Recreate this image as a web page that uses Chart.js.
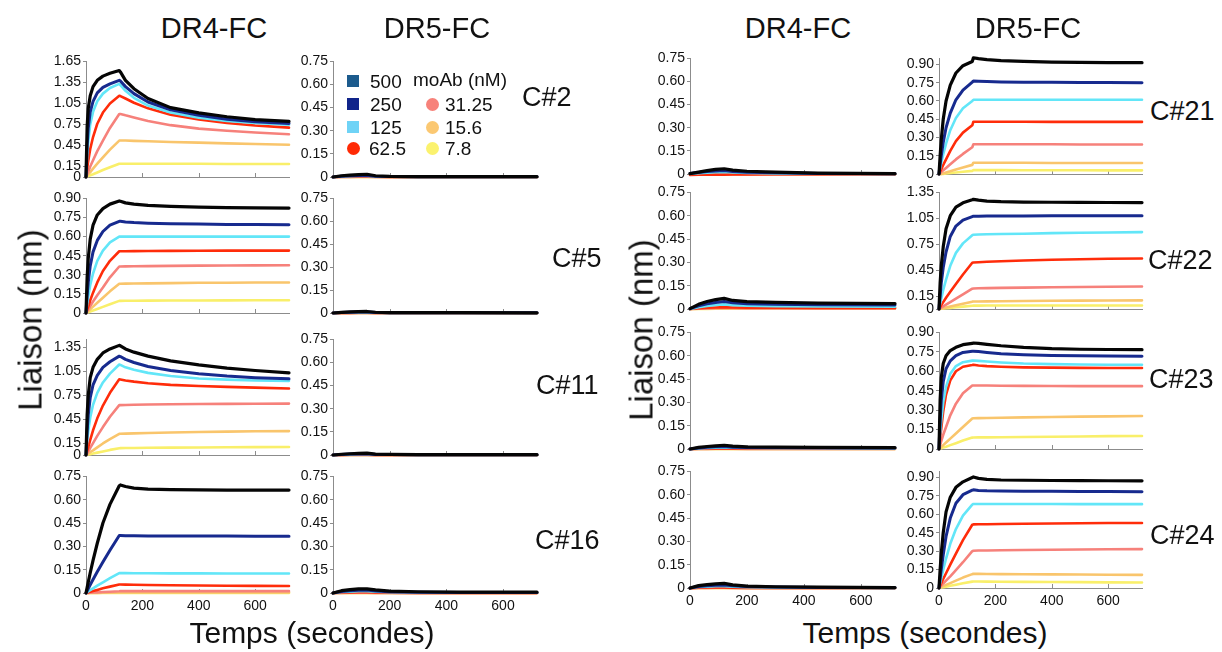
<!DOCTYPE html>
<html>
<head>
<meta charset="utf-8">
<script src="https://cdn.jsdelivr.net/npm/chart.js@4.4.1/dist/chart.umd.min.js"></script>
<style>
  html, body { margin: 0; padding: 0; background: #fff; }
  #fig { position: relative; width: 1222px; height: 652px; overflow: hidden;
         font-family: "Liberation Sans", Arial, Helvetica, sans-serif; color: #111; }
  #fig canvas { position: absolute; }
  .t { position: absolute; white-space: nowrap; line-height: 1; }
  .sw { position: absolute; }
</style>
</head>
<body>
<div id="fig"></div>
<script>
// ---- sampling times (s) ----
const timeFull  = [0, 4, 8, 15, 25, 40, 60, 85, 118, 122, 140, 170, 220, 300, 400, 500, 600, 720];
const timeShort = [0, 30, 60, 90, 120, 150, 200, 300, 450, 720];

// ---- categories and tick labels ----
const concentrations  = ['500', '250', '125', '62.5', '31.25', '15.6', '7.8'];
const receptors       = ['DR4-FC', 'DR5-FC'];
const compoundsLeft   = ['C#2', 'C#5', 'C#11', 'C#16'];
const compoundsRight  = ['C#21', 'C#22', 'C#23', 'C#24'];
const xTicks = [0, 200, 400, 600];
const ticksA = [0, 0.15, 0.45, 0.75, 1.05, 1.35, 1.65];
const ticksB = [0, 0.15, 0.30, 0.45, 0.60, 0.75, 0.90];
const ticksC = [0, 0.15, 0.45, 0.75, 1.05, 1.35];
const ticksD = [0, 0.15, 0.30, 0.45, 0.60, 0.75];

// ---- binding responses (nm), one row per concentration 500 -> 7.8 ----
const dr4_c2 = [
  [0, 0.72, 0.98, 1.16, 1.29, 1.38, 1.44, 1.48, 1.52, 1.50, 1.38, 1.26, 1.12, 0.99, 0.915, 0.86, 0.82, 0.795],
  [0, 0.45, 0.70, 0.93, 1.08, 1.20, 1.28, 1.33, 1.38, 1.37, 1.29, 1.19, 1.07, 0.96, 0.88, 0.825, 0.79, 0.765],
  [0, 0.30, 0.50, 0.75, 0.93, 1.08, 1.19, 1.27, 1.33, 1.31, 1.23, 1.13, 1.02, 0.92, 0.845, 0.80, 0.77, 0.745],
  [0, 0.12, 0.23, 0.40, 0.57, 0.76, 0.92, 1.05, 1.16, 1.155, 1.12, 1.06, 0.98, 0.89, 0.82, 0.77, 0.735, 0.705],
  [0, 0.04, 0.08, 0.15, 0.24, 0.37, 0.52, 0.70, 0.90, 0.90, 0.88, 0.85, 0.80, 0.74, 0.69, 0.66, 0.635, 0.61],
  [0, 0.02, 0.04, 0.07, 0.12, 0.19, 0.28, 0.39, 0.52, 0.52, 0.52, 0.515, 0.51, 0.50, 0.49, 0.48, 0.47, 0.46],
  [0, 0.006, 0.013, 0.025, 0.04, 0.065, 0.10, 0.14, 0.19, 0.19, 0.19, 0.19, 0.19, 0.19, 0.19, 0.185, 0.185, 0.185]
];
const dr4_c5 = [
  [0, 0.28, 0.43, 0.58, 0.69, 0.77, 0.82, 0.855, 0.88, 0.878, 0.865, 0.855, 0.845, 0.838, 0.832, 0.828, 0.826, 0.824],
  [0, 0.14, 0.24, 0.37, 0.48, 0.57, 0.64, 0.69, 0.72, 0.72, 0.715, 0.71, 0.705, 0.70, 0.698, 0.696, 0.695, 0.694],
  [0, 0.07, 0.13, 0.22, 0.31, 0.41, 0.49, 0.555, 0.60, 0.60, 0.60, 0.60, 0.60, 0.60, 0.60, 0.60, 0.60, 0.60],
  [0, 0.025, 0.05, 0.10, 0.16, 0.24, 0.33, 0.41, 0.485, 0.485, 0.485, 0.486, 0.487, 0.488, 0.489, 0.49, 0.49, 0.49],
  [0, 0.014, 0.028, 0.055, 0.09, 0.14, 0.20, 0.28, 0.365, 0.365, 0.366, 0.367, 0.368, 0.37, 0.372, 0.373, 0.374, 0.375],
  [0, 0.008, 0.016, 0.03, 0.05, 0.08, 0.12, 0.17, 0.23, 0.23, 0.231, 0.232, 0.233, 0.235, 0.237, 0.238, 0.239, 0.24],
  [0, 0.003, 0.006, 0.012, 0.02, 0.032, 0.048, 0.068, 0.095, 0.095, 0.096, 0.096, 0.097, 0.098, 0.098, 0.099, 0.10, 0.10]
];
const dr4_c11 = [
  [0, 0.50, 0.75, 0.97, 1.10, 1.20, 1.28, 1.33, 1.375, 1.37, 1.33, 1.29, 1.24, 1.18, 1.13, 1.09, 1.06, 1.03],
  [0, 0.30, 0.50, 0.72, 0.88, 1.00, 1.10, 1.17, 1.24, 1.235, 1.20, 1.16, 1.11, 1.06, 1.02, 0.99, 0.97, 0.955],
  [0, 0.18, 0.30, 0.47, 0.63, 0.78, 0.91, 1.02, 1.135, 1.13, 1.10, 1.07, 1.03, 0.99, 0.96, 0.945, 0.935, 0.93],
  [0, 0.05, 0.10, 0.19, 0.31, 0.46, 0.62, 0.78, 0.95, 0.948, 0.935, 0.92, 0.90, 0.88, 0.865, 0.855, 0.845, 0.835],
  [0, 0.022, 0.045, 0.09, 0.15, 0.24, 0.35, 0.48, 0.625, 0.625, 0.627, 0.63, 0.633, 0.636, 0.639, 0.641, 0.643, 0.645],
  [0, 0.009, 0.018, 0.035, 0.058, 0.095, 0.145, 0.20, 0.265, 0.266, 0.268, 0.271, 0.276, 0.282, 0.288, 0.293, 0.297, 0.30],
  [0, 0.003, 0.006, 0.011, 0.018, 0.03, 0.045, 0.064, 0.085, 0.086, 0.087, 0.088, 0.09, 0.092, 0.095, 0.097, 0.099, 0.10]
];
const dr4_c16 = [
  [0, 0.035, 0.07, 0.13, 0.21, 0.32, 0.45, 0.57, 0.69, 0.695, 0.685, 0.675, 0.668, 0.665, 0.663, 0.662, 0.662, 0.662],
  [0, 0.014, 0.028, 0.053, 0.087, 0.137, 0.20, 0.275, 0.37, 0.37, 0.369, 0.368, 0.367, 0.367, 0.366, 0.366, 0.365, 0.365],
  [0, 0.005, 0.01, 0.018, 0.03, 0.047, 0.069, 0.095, 0.128, 0.128, 0.128, 0.127, 0.127, 0.126, 0.126, 0.125, 0.125, 0.125],
  [0, 0.002, 0.004, 0.008, 0.013, 0.02, 0.03, 0.041, 0.055, 0.055, 0.054, 0.053, 0.051, 0.05, 0.048, 0.047, 0.046, 0.045],
  [0, 0.0005, 0.001, 0.002, 0.003, 0.004, 0.006, 0.008, 0.011, 0.012, 0.012, 0.012, 0.012, 0.012, 0.012, 0.012, 0.012, 0.012],
  [0, 0, 0, 0, 0.001, 0.001, 0.002, 0.002, 0.003, 0.003, 0.003, 0.003, 0.003, 0.003, 0.003, 0.003, 0.003, 0.003],
  [0, 0, 0, 0, 0, 0, 0, 0, 0, 0, 0, 0, 0, 0, 0, 0, 0, 0]
];
const dr5_c2 = [
  [0, 0.008, 0.012, 0.015, 0.018, 0.008, 0.004, 0.003, 0.002, 0.002],
  [0, 0.005, 0.008, 0.010, 0.012, 0.005, 0.003, 0.002, 0.001, 0.001],
  [0, 0.003, 0.005, 0.006, 0.007, 0.003, 0.002, 0.001, 0.001, 0.001],
  [0, 0.002, 0.003, 0.003, 0.004, 0.002, 0.001, 0, 0, 0],
  [0, 0.001, 0.001, 0.002, 0.002, 0.001, 0, 0, 0, 0],
  [0, 0, 0.001, 0.001, 0.001, 0, 0, 0, 0, 0],
  [0, 0, 0, 0, 0, 0, 0, 0, 0, 0]
];
const dr5_c5 = [
  [0, 0.004, 0.007, 0.009, 0.010, 0.005, 0.003, 0.002, 0.002, 0.001],
  [0, 0.003, 0.005, 0.006, 0.007, 0.004, 0.002, 0.001, 0.001, 0.001],
  [0, 0.002, 0.003, 0.004, 0.004, 0.002, 0.001, 0.001, 0, 0],
  [0, 0.001, 0.001, 0.002, 0.002, 0.001, 0, 0, 0, 0],
  [0, 0, 0.001, 0.001, 0.001, 0, 0, 0, 0, 0],
  [0, 0, 0, 0, 0, 0, 0, 0, 0, 0],
  [0, 0, 0, 0, 0, 0, 0, 0, 0, 0]
];
const dr5_c11 = [
  [0, 0.005, 0.008, 0.010, 0.012, 0.006, 0.004, 0.003, 0.002, 0.002],
  [0, 0.004, 0.006, 0.007, 0.008, 0.004, 0.003, 0.002, 0.001, 0.001],
  [0, 0.002, 0.004, 0.005, 0.005, 0.003, 0.002, 0.001, 0.001, 0],
  [0, 0.001, 0.002, 0.002, 0.002, 0.001, 0, 0, 0, 0],
  [0, 0, 0.001, 0.001, 0.001, 0, 0, 0, 0, 0],
  [0, 0, 0, 0, 0, 0, 0, 0, 0, 0],
  [0, 0, 0, 0, 0, 0, 0, 0, 0, 0]
];
const dr5_c16 = [
  [0, 0.015, 0.022, 0.026, 0.027, 0.020, 0.012, 0.008, 0.006, 0.005],
  [0, 0.010, 0.015, 0.018, 0.019, 0.013, 0.008, 0.005, 0.004, 0.004],
  [0, 0.006, 0.009, 0.011, 0.012, 0.008, 0.005, 0.003, 0.002, 0.002],
  [0, 0.003, 0.004, 0.005, 0.005, 0.003, 0.002, 0.001, 0.001, 0.001],
  [0, 0.001, 0.002, 0.002, 0.002, 0.001, 0.001, 0, 0, 0],
  [0, 0, 0.001, 0.001, 0.001, 0, 0, 0, 0, 0],
  [0, 0, 0, 0, 0, 0, 0, 0, 0, 0]
];
const dr4_c21 = [
  [0.002, 0.012, 0.022, 0.030, 0.034, 0.025, 0.018, 0.012, 0.006, 0.002],
  [0.004, 0.010, 0.016, 0.020, 0.022, 0.016, 0.012, 0.008, 0.004, 0.001],
  [0, 0.005, 0.009, 0.012, 0.014, 0.010, 0.007, 0.004, 0.002, 0],
  [-0.006, -0.005, -0.005, -0.004, -0.004, -0.003, -0.003, -0.002, -0.002, -0.001],
  [-0.003, -0.002, -0.002, -0.002, -0.002, -0.001, -0.001, -0.001, -0.001, 0],
  [0, 0, 0, 0, -0.002, -0.002, -0.002, -0.001, -0.001, 0],
  [0, 0, 0, 0, 0, 0, 0, 0, 0, 0]
];
const dr4_c22 = [
  [0.002, 0.030, 0.048, 0.060, 0.068, 0.055, 0.047, 0.042, 0.038, 0.035],
  [0.002, 0.020, 0.033, 0.042, 0.048, 0.040, 0.034, 0.030, 0.027, 0.025],
  [0, 0.012, 0.020, 0.026, 0.030, 0.025, 0.021, 0.018, 0.016, 0.015],
  [0, 0.005, 0.008, 0.010, 0.012, 0.010, 0.009, 0.008, 0.007, 0.007],
  [0, 0.002, 0.004, 0.005, 0.006, 0.005, 0.004, 0.004, 0.004, 0.004],
  [0, 0.002, 0.004, 0.006, 0.008, 0.008, 0.008, 0.008, 0.008, 0.008],
  [0, 0.001, 0.001, 0.002, 0.002, 0.002, 0.002, 0.002, 0.002, 0.002]
];
const dr4_c23 = [
  [0, 0.010, 0.016, 0.020, 0.024, 0.018, 0.014, 0.012, 0.010, 0.009],
  [0, 0.007, 0.011, 0.014, 0.016, 0.012, 0.010, 0.009, 0.008, 0.007],
  [0, 0.004, 0.007, 0.009, 0.010, 0.008, 0.006, 0.005, 0.005, 0.004],
  [0, 0.002, 0.003, 0.004, 0.004, 0.003, 0.003, 0.002, 0.002, 0.002],
  [0, 0.001, 0.001, 0.002, 0.002, 0.002, 0.001, 0.001, 0.001, 0.001],
  [0, 0, 0.001, 0.001, 0.001, 0.001, 0.001, 0.001, 0.001, 0.001],
  [0, 0, 0, 0, 0, 0, 0, 0, 0, 0]
];
const dr4_c24 = [
  [0, 0.015, 0.022, 0.026, 0.030, 0.020, 0.012, 0.008, 0.005, 0.003],
  [0, 0.010, 0.015, 0.018, 0.020, 0.014, 0.009, 0.006, 0.004, 0.002],
  [0, 0.006, 0.009, 0.011, 0.012, 0.008, 0.005, 0.003, 0.002, 0.001],
  [-0.002, 0.002, 0.003, 0.004, 0.004, 0.002, 0.001, 0, 0, 0],
  [0, 0.001, 0.001, 0.002, 0.002, 0.001, 0, 0, 0, 0],
  [0, 0, 0.001, 0.001, 0.001, 0, 0, 0, 0, 0],
  [0, 0, 0, 0, 0, 0, 0, 0, 0, 0]
];
const dr5_c21 = [
  [0, 0.15, 0.28, 0.45, 0.60, 0.73, 0.83, 0.89, 0.925, 0.955, 0.948, 0.94, 0.932, 0.925, 0.92, 0.918, 0.916, 0.915],
  [0, 0.08, 0.15, 0.26, 0.38, 0.50, 0.61, 0.69, 0.755, 0.765, 0.763, 0.76, 0.757, 0.755, 0.753, 0.752, 0.751, 0.75],
  [0, 0.05, 0.09, 0.16, 0.25, 0.36, 0.46, 0.54, 0.60, 0.61, 0.61, 0.61, 0.61, 0.61, 0.61, 0.61, 0.61, 0.61],
  [0, 0.02, 0.04, 0.075, 0.12, 0.19, 0.27, 0.34, 0.40, 0.43, 0.43, 0.43, 0.429, 0.429, 0.428, 0.428, 0.428, 0.428],
  [0, 0.008, 0.016, 0.03, 0.05, 0.08, 0.12, 0.165, 0.22, 0.245, 0.245, 0.245, 0.245, 0.244, 0.244, 0.243, 0.243, 0.243],
  [0, 0, 0, 0.005, 0.012, 0.022, 0.037, 0.054, 0.075, 0.093, 0.093, 0.093, 0.092, 0.092, 0.091, 0.091, 0.09, 0.09],
  [0, 0, 0, 0.001, 0.004, 0.008, 0.013, 0.019, 0.026, 0.032, 0.032, 0.032, 0.032, 0.031, 0.031, 0.031, 0.03, 0.03]
];
const dr5_c22 = [
  [0, 0.30, 0.50, 0.72, 0.93, 1.08, 1.18, 1.23, 1.265, 1.27, 1.26, 1.25, 1.243, 1.238, 1.236, 1.234, 1.233, 1.232],
  [0, 0.15, 0.30, 0.48, 0.66, 0.84, 0.96, 1.03, 1.07, 1.075, 1.075, 1.076, 1.077, 1.078, 1.079, 1.08, 1.08, 1.08],
  [0, 0.06, 0.12, 0.22, 0.34, 0.50, 0.65, 0.76, 0.855, 0.86, 0.862, 0.865, 0.868, 0.872, 0.878, 0.882, 0.886, 0.89],
  [0, 0.02, 0.045, 0.08, 0.13, 0.20, 0.29, 0.40, 0.535, 0.538, 0.542, 0.547, 0.553, 0.562, 0.57, 0.576, 0.581, 0.585],
  [0, 0.008, 0.016, 0.03, 0.05, 0.08, 0.12, 0.17, 0.235, 0.238, 0.24, 0.242, 0.245, 0.248, 0.252, 0.255, 0.258, 0.26],
  [0, 0.003, 0.006, 0.011, 0.018, 0.029, 0.044, 0.062, 0.085, 0.086, 0.087, 0.088, 0.09, 0.092, 0.095, 0.097, 0.099, 0.10],
  [0, 0.001, 0.003, 0.005, 0.008, 0.013, 0.02, 0.028, 0.038, 0.039, 0.039, 0.04, 0.04, 0.04, 0.041, 0.041, 0.041, 0.041]
];
const dr5_c23 = [
  [0, 0.38, 0.55, 0.66, 0.72, 0.76, 0.785, 0.805, 0.815, 0.818, 0.815, 0.808, 0.797, 0.785, 0.775, 0.77, 0.768, 0.767],
  [0, 0.22, 0.37, 0.52, 0.62, 0.68, 0.72, 0.745, 0.755, 0.755, 0.752, 0.745, 0.735, 0.727, 0.721, 0.719, 0.717, 0.716],
  [0, 0.12, 0.22, 0.36, 0.48, 0.58, 0.64, 0.67, 0.682, 0.683, 0.68, 0.675, 0.668, 0.66, 0.655, 0.652, 0.65, 0.65],
  [0, 0.08, 0.16, 0.29, 0.42, 0.53, 0.60, 0.635, 0.648, 0.65, 0.645, 0.64, 0.635, 0.63, 0.628, 0.626, 0.625, 0.625],
  [0, 0.03, 0.06, 0.11, 0.17, 0.26, 0.35, 0.43, 0.49, 0.49, 0.49, 0.49, 0.488, 0.487, 0.486, 0.485, 0.485, 0.485],
  [0, 0.008, 0.016, 0.03, 0.05, 0.08, 0.12, 0.17, 0.235, 0.237, 0.238, 0.239, 0.241, 0.244, 0.247, 0.25, 0.252, 0.255],
  [0, 0.003, 0.006, 0.011, 0.018, 0.03, 0.045, 0.065, 0.088, 0.089, 0.09, 0.09, 0.091, 0.093, 0.095, 0.097, 0.099, 0.10]
];
const dr5_c24 = [
  [0, 0.15, 0.28, 0.45, 0.62, 0.74, 0.82, 0.865, 0.90, 0.905, 0.893, 0.885, 0.88, 0.878, 0.876, 0.875, 0.874, 0.873],
  [0, 0.08, 0.15, 0.27, 0.42, 0.57, 0.69, 0.76, 0.797, 0.80, 0.795, 0.792, 0.79, 0.789, 0.788, 0.787, 0.786, 0.785],
  [0, 0.04, 0.08, 0.15, 0.24, 0.36, 0.48, 0.59, 0.68, 0.685, 0.685, 0.685, 0.684, 0.684, 0.684, 0.683, 0.683, 0.683],
  [0, 0.02, 0.04, 0.075, 0.12, 0.19, 0.28, 0.39, 0.515, 0.518, 0.519, 0.52, 0.522, 0.524, 0.526, 0.527, 0.529, 0.53],
  [0, 0.01, 0.02, 0.037, 0.06, 0.095, 0.145, 0.21, 0.30, 0.303, 0.305, 0.306, 0.308, 0.31, 0.312, 0.314, 0.316, 0.317],
  [0, 0.004, 0.008, 0.015, 0.025, 0.04, 0.06, 0.085, 0.113, 0.115, 0.115, 0.114, 0.113, 0.112, 0.111, 0.11, 0.108, 0.107],
  [0, 0.002, 0.004, 0.007, 0.011, 0.018, 0.027, 0.038, 0.052, 0.053, 0.053, 0.052, 0.051, 0.05, 0.049, 0.048, 0.046, 0.045]
];

// ---- styling ----
const FONT = '"Liberation Sans", Arial, Helvetica, sans-serif';
const lineColors   = ['#050505', '#172a8e', '#62e6f8', '#ff2c0a', '#f6817b', '#f9c56c', '#f9ef6a'];
const lineWidths   = [3.2, 3, 2.6, 2.6, 2.6, 2.6, 2.6];
const legendColors = ['#1c5b8d', '#10248a', '#6fd3f6', '#ff2a05', '#f7827a', '#fbc872', '#fbf26e'];
const AXIS = '#8c8c8c';

// plot-area boxes on the page
const COLS = [{ l: 86, r: 289 }, { l: 333, r: 537 }, { l: 690, r: 895 }, { l: 939, r: 1142 }];
const ROWS_L = [{ t: 59, b: 177 }, { t: 196, b: 313 }, { t: 337, b: 455 }, { t: 474, b: 593 }];
const ROWS_R = [{ t: 56, b: 174 }, { t: 190, b: 309 }, { t: 330, b: 449 }, { t: 469, b: 588 }];

const panels = [
  { data: dr4_c2,  time: timeFull,  col: 0, row: 0, max: 1.65, ticks: ticksA },
  { data: dr4_c5,  time: timeFull,  col: 0, row: 1, max: 0.90, ticks: ticksB },
  { data: dr4_c11, time: timeFull,  col: 0, row: 2, max: 1.45, ticks: ticksC },
  { data: dr4_c16, time: timeFull,  col: 0, row: 3, max: 0.75, ticks: ticksD },
  { data: dr5_c2,  time: timeShort, col: 1, row: 0, max: 0.75, ticks: ticksD },
  { data: dr5_c5,  time: timeShort, col: 1, row: 1, max: 0.75, ticks: ticksD },
  { data: dr5_c11, time: timeShort, col: 1, row: 2, max: 0.75, ticks: ticksD },
  { data: dr5_c16, time: timeShort, col: 1, row: 3, max: 0.75, ticks: ticksD },
  { data: dr4_c21, time: timeShort, col: 2, row: 0, max: 0.75, ticks: ticksD },
  { data: dr4_c22, time: timeShort, col: 2, row: 1, max: 0.75, ticks: ticksD },
  { data: dr4_c23, time: timeShort, col: 2, row: 2, max: 0.75, ticks: ticksD },
  { data: dr4_c24, time: timeShort, col: 2, row: 3, max: 0.75, ticks: ticksD },
  { data: dr5_c21, time: timeFull,  col: 3, row: 0, max: 0.95, ticks: ticksB },
  { data: dr5_c22, time: timeFull,  col: 3, row: 1, max: 1.35, ticks: ticksC },
  { data: dr5_c23, time: timeFull,  col: 3, row: 2, max: 0.90, ticks: ticksB },
  { data: dr5_c24, time: timeFull,  col: 3, row: 3, max: 0.95, ticks: ticksB }
];

const fig = document.getElementById('fig');

// short inward tick marks on the time axis
const innerTicks = {
  id: 'innerTicks',
  beforeDatasetsDraw(chart) {
    const s = chart.scales.x, a = chart.chartArea, c = chart.ctx;
    c.save();
    c.strokeStyle = AXIS; c.lineWidth = 1; c.beginPath();
    xTicks.forEach(v => {
      if (v === 0) return;
      const px = Math.round(s.getPixelForValue(v)) + 0.5;
      c.moveTo(px, a.bottom); c.lineTo(px, a.bottom - 4);
    });
    c.stroke(); c.restore();
  }
};

function makePanel(p) {
  const col = COLS[p.col];
  const row = (p.col < 2 ? ROWS_L : ROWS_R)[p.row];
  const YW = 40, PT = 8, PR = 8, XH = 26;
  const w = col.r - col.l + YW + PR, h = row.b - row.t + PT + XH;
  const cv = document.createElement('canvas');
  cv.width = w; cv.height = h;
  cv.style.left = (col.l - YW) + 'px'; cv.style.top = (row.t - PT) + 'px';
  fig.appendChild(cv);

  const datasets = p.data.map((vals, i) => ({
    label: concentrations[i],
    data: vals.map((v, k) => ({ x: p.time[k], y: v })),
    borderColor: lineColors[i],
    borderWidth: lineWidths[i],
    borderJoinStyle: 'round',
    borderCapStyle: 'round',
    pointRadius: 0,
    tension: 0,
    fill: false,
    clip: 6
  }));

  new Chart(cv, {
    type: 'line',
    data: { datasets },
    options: {
      responsive: false, animation: false, devicePixelRatio: 1,
      layout: { padding: { top: PT, right: PR, left: 0, bottom: 0 }, autoPadding: false },
      plugins: { legend: { display: false }, tooltip: { enabled: false } },
      scales: {
        x: {
          type: 'linear', min: 0, max: 720,
          afterBuildTicks: s => { s.ticks = xTicks.map(v => ({ value: v })); },
          afterFit: s => { s.height = XH; },
          grid: { display: true, drawOnChartArea: false, drawTicks: false },
          border: { display: true, color: AXIS, width: 1 },
          ticks: { display: p.row === 3, padding: 5, color: '#111', maxRotation: 0, autoSkip: false,
                   font: { family: FONT, size: 14 } }
        },
        y: {
          type: 'linear', min: 0, max: p.max,
          afterBuildTicks: s => { s.ticks = p.ticks.map(v => ({ value: v })); },
          afterFit: s => { s.width = YW; },
          grid: { drawOnChartArea: false, drawTicks: true, tickLength: 3, color: AXIS },
          border: { display: true, color: AXIS, width: 1 },
          ticks: { padding: 2, color: '#111', autoSkip: false, font: { family: FONT, size: 14 },
                   callback: v => (v === 0 ? '0' : v.toFixed(2)) }
        }
      }
    },
    plugins: [innerTicks]
  });
}
panels.forEach(makePanel);

// ---- text ----
function text(str, x, y, size, opts = {}) {
  const d = document.createElement('div');
  d.className = 't';
  d.textContent = str;
  d.style.fontSize = size + 'px';
  d.style.left = x + 'px'; d.style.top = y + 'px';
  const ax = opts.anchor === 'left' ? '0' : '-50%';
  d.style.transform = `translate(${ax}, -50%)`;
  if (opts.rotate) { d.style.transform = `translate(-50%, -50%) rotate(${opts.rotate}deg)`; }
  fig.appendChild(d);
}

// column headers
text(receptors[0], 214, 28, 29);
text(receptors[1], 437, 28, 29);
text(receptors[0], 798, 28, 29);
text(receptors[1], 1028, 28, 29);

// axis titles
text('Liaison (nm)', 30, 320, 33, { rotate: -90 });
text('Liaison (nm)', 641, 330, 33, { rotate: -90 });
text('Temps (secondes)', 312, 633, 30);
text('Temps (secondes)', 925, 633, 30);

// compound labels
const leftLabelPos  = [[522, 97], [552, 258], [536, 385], [535, 540]];
const rightLabelPos = [[1150, 111], [1148, 260], [1149, 379], [1150, 535]];
compoundsLeft.forEach((c, i) => text(c, leftLabelPos[i][0], leftLabelPos[i][1], 27, { anchor: 'left' }));
compoundsRight.forEach((c, i) => text(c, rightLabelPos[i][0], rightLabelPos[i][1], 27, { anchor: 'left' }));

// concentration key
function swatch(x, y, size, color, round) {
  const d = document.createElement('div');
  d.className = 'sw';
  d.style.left = (x - size / 2) + 'px'; d.style.top = (y - size / 2) + 'px';
  d.style.width = size + 'px'; d.style.height = size + 'px';
  d.style.background = color;
  if (round) d.style.borderRadius = '50%';
  fig.appendChild(d);
}
const keyPos = [[353, 81, 370], [353, 104, 370], [353, 127, 370], [353, 148, 369],
                [432, 104, 445], [432, 127, 445], [432, 148, 445]];
concentrations.forEach((c, i) => {
  const [sx, sy, tx] = keyPos[i];
  swatch(sx, sy, i < 3 ? 12 : 13, legendColors[i], i >= 3);
  text(c, tx, sy, 19, { anchor: 'left' });
});
text('moAb (nM)', 413, 79, 19, { anchor: 'left' });
</script>
</body>
</html>
